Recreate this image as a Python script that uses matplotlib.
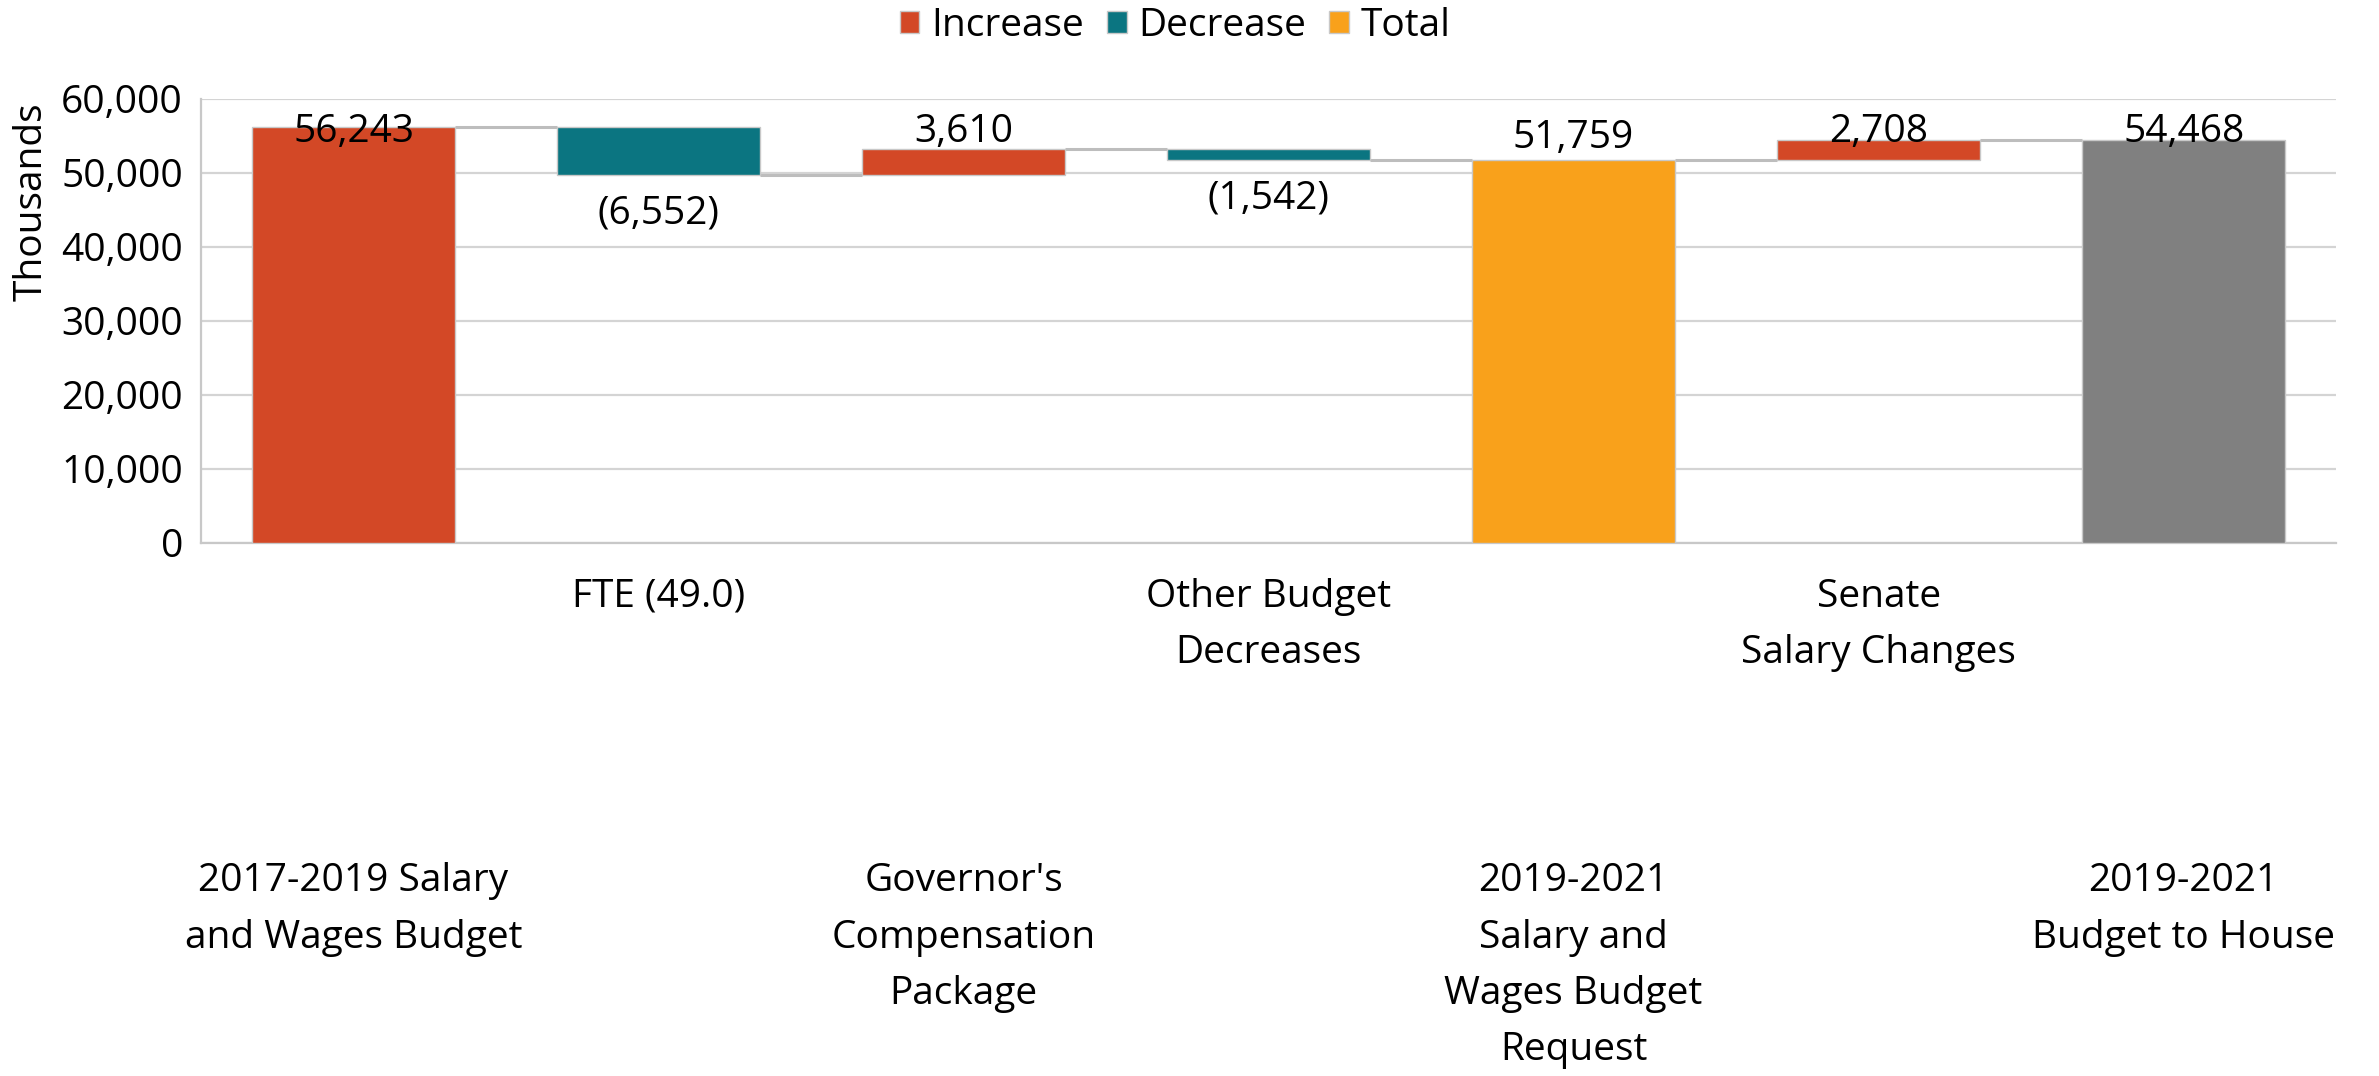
import matplotlib
matplotlib.use("Agg")
from matplotlib import pyplot as plt
from matplotlib.patches import Patch
from matplotlib.ticker import FuncFormatter

categories = [
    "2017-2019 Salary\nand Wages Budget",
    "FTE (49.0)",
    "Governor's\nCompensation\nPackage",
    "Other Budget\nDecreases",
    "2019-2021\nSalary and\nWages Budget\nRequest",
    "Senate\nSalary Changes",
    "2019-2021\nBudget to House",
]
values = [56243, -6552, 3610, -1542, 51759, 2708, 54468]
kinds = ["start", "dec", "inc", "dec", "total", "inc", "end"]

colors = {
    "start": "#D34826",
    "inc": "#D34826",
    "dec": "#0B7581",
    "total": "#F9A11B",
    "end": "#808080",
}

plt.rcParams["font.family"] = ["Open Sans", "DejaVu Sans"]
FS = 28


def fmt(v):
    if v < 0:
        return "({:,})".format(-v)
    return "{:,}".format(v)


def make_waterfall():
    fig = plt.figure(figsize=(23.79, 10.76), dpi=100)
    ax = fig.add_axes([0.0845, 0.4954, 0.8975, 0.4126])

    bottoms = []
    tops = []
    running = 0
    for v, k in zip(values, kinds):
        if k in ("start", "total", "end"):
            bottoms.append(0)
            tops.append(v)
            running = v
        else:
            lo = min(running, running + v)
            bottoms.append(lo)
            tops.append(lo + abs(v))
            running = running + v

    x = list(range(len(values)))
    w = 0.667
    heights = [t - b for t, b in zip(tops, bottoms)]
    ax.bar(x, heights, bottom=bottoms, width=w,
           color=[colors[k] for k in kinds], edgecolor="#c8c8c8",
           linewidth=1, zorder=3)

    # connectors between bars
    level = 0
    for i in range(len(values) - 1):
        if kinds[i] in ("start", "total", "end"):
            level = values[i]
        else:
            level = level + values[i]
        ax.plot([i + w / 2, i + 1 - w / 2], [level, level],
                color="#bdbdbd", lw=2.2, zorder=2, solid_capstyle="butt")

    # value labels
    cap = 52600
    for i, (v, k) in enumerate(zip(values, kinds)):
        if k == "dec":
            ax.annotate(fmt(v), (i, bottoms[i]), xytext=(0, -14),
                        textcoords="offset points", ha="center", va="top",
                        fontsize=FS, zorder=4)
        else:
            ax.annotate(fmt(v), (i, min(tops[i], cap)), xytext=(0, 8.6),
                        textcoords="offset points", ha="center",
                        va="baseline", fontsize=FS, zorder=4)

    ax.set_xlim(-0.5, len(values) - 0.5)
    ax.set_ylim(0, 60000)
    ax.set_yticks(range(0, 60001, 10000))
    ax.yaxis.set_major_formatter(FuncFormatter(lambda v, p: "{:,}".format(int(v))))
    ax.grid(axis="y", color="#d4d4d4", lw=1.6, zorder=0)
    ax.set_axisbelow(True)

    ax.set_xticks(x)
    ax.set_xticklabels(categories, fontsize=FS, linespacing=1.63)
    ax.tick_params(axis="x", length=0)
    ax.tick_params(axis="y", length=0, pad=13, labelsize=FS)
    for i, t in enumerate(ax.xaxis.get_major_ticks()):
        if i % 2 == 0:
            t.set_pad(230)
        else:
            t.set_pad(25)

    for s in ("top", "right"):
        ax.spines[s].set_visible(False)
    for s in ("left", "bottom"):
        ax.spines[s].set_color("#c8c8c8")
        ax.spines[s].set_linewidth(1.6)

    fig.text(0.0135, 0.813, "Thousands", rotation=90, ha="center",
             va="center", fontsize=FS)

    handles = [Patch(facecolor=colors["inc"], edgecolor="#c8c8c8"),
               Patch(facecolor=colors["dec"], edgecolor="#c8c8c8"),
               Patch(facecolor=colors["total"], edgecolor="#c8c8c8")]
    fig.legend(handles, ["Increase", "Decrease", "Total"], loc="center",
               bbox_to_anchor=(0.494, 0.976), ncol=3, frameon=False,
               fontsize=FS, handlelength=0.5, handleheight=0.5,
               handletextpad=0.3, columnspacing=0.6)

    fig.savefig("out.png", dpi=100)


if __name__ == "__main__":
    make_waterfall()
